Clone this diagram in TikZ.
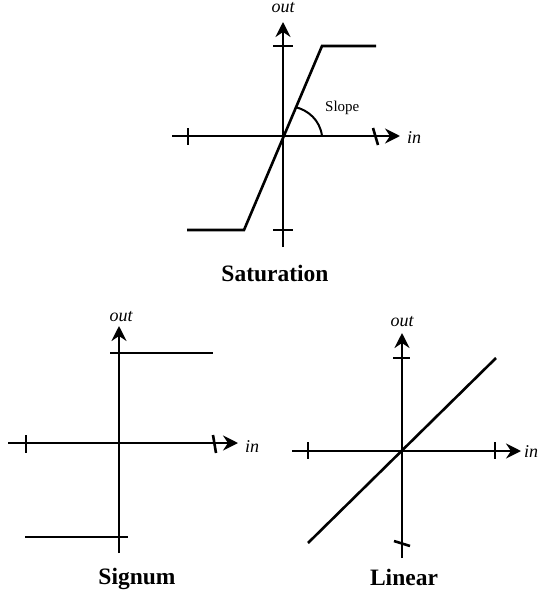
\documentclass[tikz,border=0pt]{standalone}
\usepackage{fontspec}
\setmainfont{Liberation Serif}
\usetikzlibrary{arrows.meta}
\tikzset{
  axis/.style={line width=2.6pt, draw=black},
  axisarrow/.style={axis, -{Stealth[length=15pt,width=15pt,inset=5pt]}},
  curve/.style={line width=2.6pt, line join=miter},
  tickmark/.style={line width=2.6pt},
  varlabel/.style={font=\fontsize{18}{18}\itshape\selectfont, inner sep=0pt},
  slopelabel/.style={font=\fontsize{15}{15}\selectfont, inner sep=0pt},
  plottitle/.style={font=\fontsize{23.5}{23.5}\bfseries\selectfont, inner sep=0pt}
}

\begin{document}
\begin{tikzpicture}[x=1pt,y=-1pt]
  \useasboundingbox (0,0) rectangle (538,594);

  % Saturation
  \coordinate (satO) at (283,136);
  \coordinate (satL) at (172,136);
  \coordinate (satR) at (400,136);
  \coordinate (satT) at (283,22);
  \coordinate (satB) at (283,247);
  \draw[axisarrow] (satL) -- (satR);
  \draw[axisarrow] (satB) -- (satT);
  \draw[tickmark] (188,128) -- (188,145);
  \draw[tickmark] (373,128) -- (378,145);
  \draw[tickmark] (273,46) -- (293,46);
  \draw[tickmark] (273,230) -- (293,230);
  \coordinate (satK1) at (322,46);
  \coordinate (satK2) at (244,230);
  \draw[curve] (376,46) -- (satK1) -- (satK2) -- (187,230);
  \coordinate (arcA) at (295,107);
  \coordinate (arcB) at (322,136);
  \draw[line width=2pt] (arcA) .. controls (308,110) and (320,120) .. (arcB);
  \node[slopelabel, anchor=west] (slope) at (325,108) {Slope};
  \node[varlabel, anchor=base] (satOut) at (283,13) {out};
  \node[varlabel, anchor=base west] (satIn) at (407,143) {in};
  \node[plottitle, anchor=base] (satTitle) at (275,281) {Saturation};

  % Signum
  \coordinate (sgnO) at (119,443);
  \coordinate (sgnL) at (8,443);
  \coordinate (sgnR) at (238,443);
  \coordinate (sgnT) at (119,326);
  \coordinate (sgnB) at (119,553);
  \draw[axisarrow] (sgnL) -- (sgnR);
  \draw[axisarrow] (sgnB) -- (sgnT);
  \draw[tickmark] (26,435) -- (26,453);
  \draw[tickmark] (213,435) -- (216,453);
  \draw[curve] (110,353) -- (213,353);
  \draw[curve] (25,537) -- (128,537);
  \node[varlabel, anchor=base] (sgnOut) at (121,321) {out};
  \node[varlabel, anchor=base west] (sgnIn) at (245,452) {in};
  \node[plottitle, anchor=base] (sgnTitle) at (137,584) {Signum};

  % Linear
  \coordinate (linO) at (402,451);
  \coordinate (linL) at (292,451);
  \coordinate (linR) at (521,451);
  \coordinate (linT) at (402,333);
  \coordinate (linB) at (402,558);
  \draw[axisarrow] (linL) -- (linR);
  \draw[axisarrow] (linB) -- (linT);
  \draw[tickmark] (308,442) -- (308,459);
  \draw[tickmark] (495,442) -- (495,459);
  \draw[tickmark] (393,358) -- (410,358);
  \draw[tickmark] (394,541) -- (410,546);
  \draw[curve] (308,543) -- (496,358);
  \node[varlabel, anchor=base] (linOut) at (402,326) {out};
  \node[varlabel, anchor=base west] (linIn) at (524,457) {in};
  \node[plottitle, anchor=base] (linTitle) at (404,585) {Linear};
\end{tikzpicture}
\end{document}
